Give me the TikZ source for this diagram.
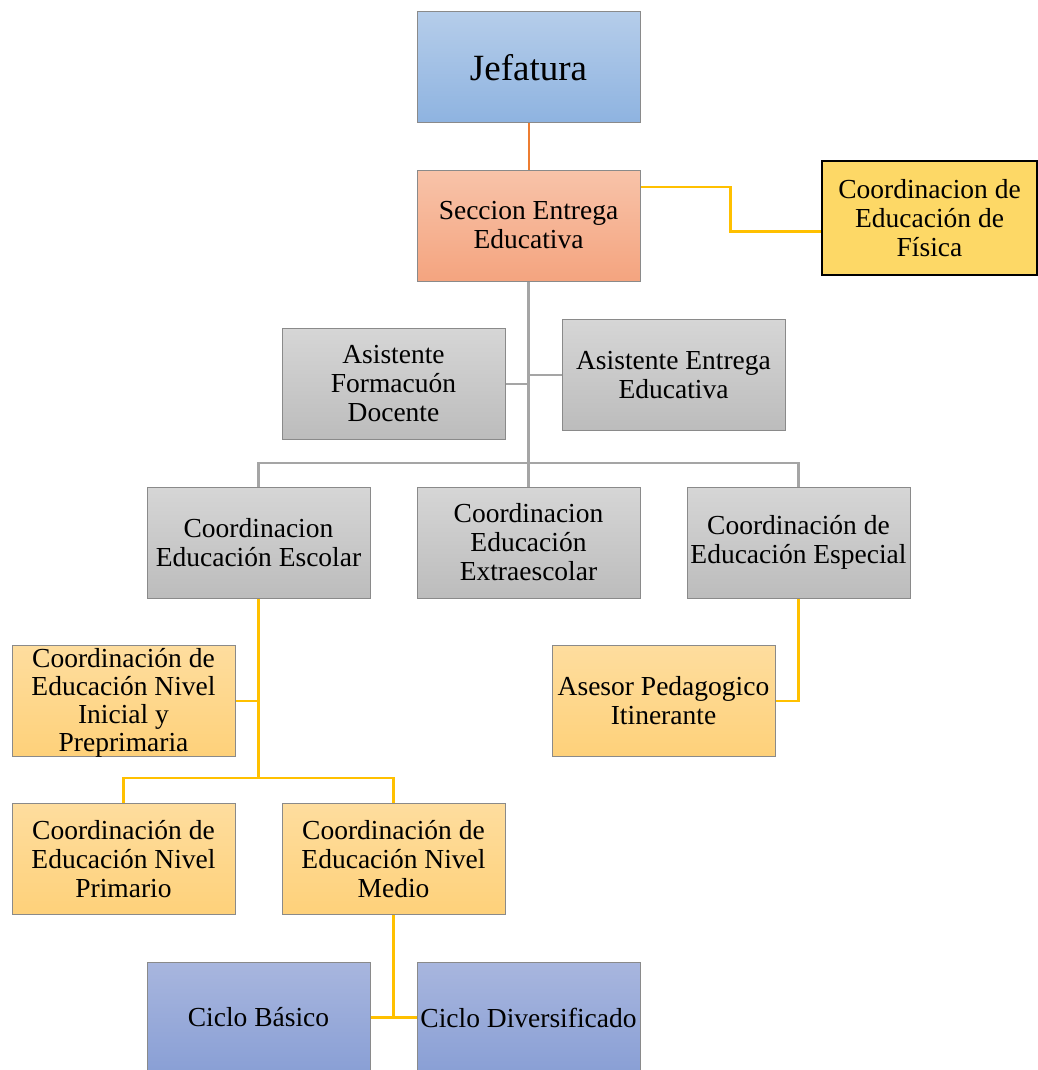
\documentclass[tikz,border=0pt]{standalone}
\usepackage{fontspec}
\setmainfont{Liberation Serif}
\usepackage{tikz}

\definecolor{jefTop}{HTML}{B5CDEA}
\definecolor{jefBot}{HTML}{8EB3E0}
\definecolor{secTop}{HTML}{F8C3A9}
\definecolor{secBot}{HTML}{F4A47F}
\definecolor{grisTop}{HTML}{D6D6D6}
\definecolor{grisBot}{HTML}{BCBCBC}
\definecolor{amaTop}{HTML}{FEDD9E}
\definecolor{amaBot}{HTML}{FED17A}
\definecolor{fisFill}{HTML}{FDD866}
\definecolor{cicTop}{HTML}{A8B6DE}
\definecolor{cicBot}{HTML}{899FD5}
\definecolor{borde}{HTML}{8A8A8A}
\definecolor{lineaNar}{HTML}{ED7D31}
\definecolor{lineaAma}{HTML}{FFC000}
\definecolor{lineaGris}{HTML}{A5A5A5}

\begin{document}
\begin{tikzpicture}[x=1pt,y=-1pt]
	
	\tikzset{box/.style = {shape=rectangle,draw=borde,line width=1pt,minimum width=223pt,minimum height=111pt,align=center,inner sep=1pt,font=\fontsize{27.5}{29}\selectfont}}
	\tikzset{jefbox/.style = {box,top color=jefTop,bottom color=jefBot}}
	\tikzset{secbox/.style = {box,top color=secTop,bottom color=secBot}}
	\tikzset{grisbox/.style = {box,top color=grisTop,bottom color=grisBot}}
	\tikzset{amabox/.style = {box,top color=amaTop,bottom color=amaBot}}
	\tikzset{cicbox/.style = {box,top color=cicTop,bottom color=cicBot}}
	\tikzset{lnar/.style = {draw=lineaNar,line width=2pt}}
	\tikzset{lama/.style = {draw=lineaAma,line width=2.5pt}}
	\tikzset{lgris/.style = {draw=lineaGris,line width=2.5pt}}
	
	\useasboundingbox (0,0) rectangle (1037,1070);
	
	\node[jefbox,font=\fontsize{37}{40}\selectfont] (jef) at (528.5,67.5) {Jefatura};
	\node[secbox] (sec) at (528.5,225.5) {Seccion Entrega\\Educativa};
	\node[box,draw=black,line width=2.5pt,fill=fisFill,minimum width=215pt,minimum height=114pt] (fis) at (929.5,218) {Coordinacion de\\Educación de\\Física};
	
	\node[grisbox] (asf) at (393.5,384) {Asistente\\Formacuón\\Docente};
	\node[grisbox] (ase) at (673.5,375) {Asistente Entrega\\Educativa};
	
	\node[grisbox] (esc) at (258.5,542.5) {Coordinacion\\Educación Escolar};
	\node[grisbox] (ext) at (528.5,542.5) {Coordinacion\\Educación\\Extraescolar};
	\node[grisbox] (esp) at (798.5,542.5) {Coordinación de\\Educación Especial};
	
	\node[amabox,inner sep=0pt,text height=104pt,text depth=4pt,font=\fontsize{27.5}{28}\selectfont] (ini) at (123.5,701) {Coordinación de\\Educación Nivel\\Inicial y\\Preprimaria};
	\node[amabox] (ape) at (663.5,701) {Asesor Pedagogico\\Itinerante};
	
	\node[amabox] (pri) at (123.5,859) {Coordinación de\\Educación Nivel\\Primario};
	\node[amabox] (med) at (393.5,859) {Coordinación de\\Educación Nivel\\Medio};
	
	\node[cicbox] (cb) at (258.5,1017.5) {Ciclo Básico};
	\node[cicbox] (cd) at (528.5,1017.5) {Ciclo Diversificado};
	
	\coordinate (hub) at (528.5,463);
	\coordinate (eschub) at (258.5,778);
	
	\draw[lnar] (jef) to (sec);
	\draw[lama] (sec.19) -- ++(90,0) |- (fis.187);
	\draw[lgris] (sec) to (hub);
	\draw[lgris] (asf.east) -- (asf.east -| hub);
	\draw[lgris] (ase.west) -- (ase.west -| hub);
	\draw[lgris] (esc.north) |- (hub) -| (esp.north);
	\draw[lgris] (hub) to (ext.north);
	\draw[lama] (esc.south) to (eschub);
	\draw[lama] (ini.east) -- (ini.east -| eschub);
	\draw[lama] (pri.north) |- (eschub) -| (med.north);
	\draw[lama] (esp.south) |- (ape.east);
	\draw[lama] (med.south) -- (med.south |- cb.east);
	\draw[lama] (cb.east) to (cd.west);
	\end{tikzpicture}
\end{document}
